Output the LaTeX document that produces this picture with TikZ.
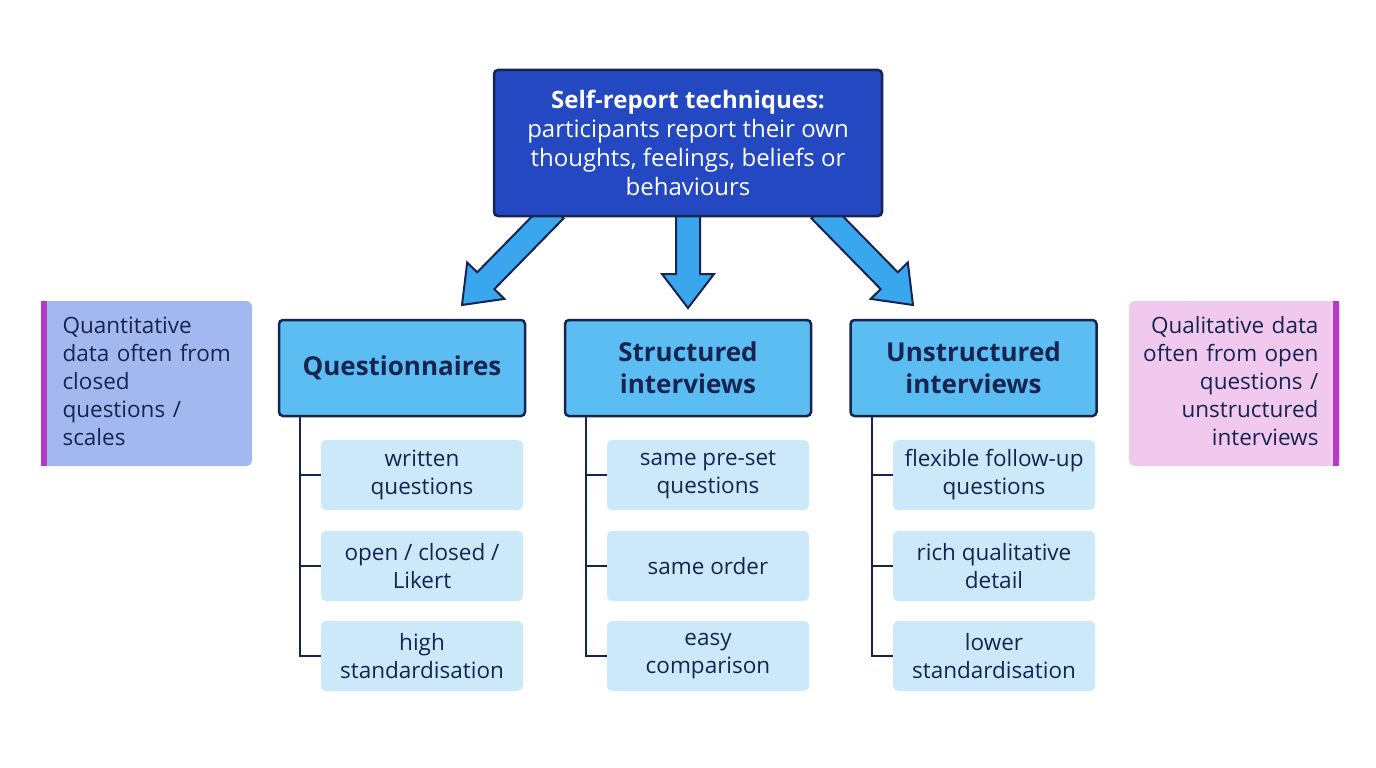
\documentclass[tikz,border=0pt]{standalone}
\usepackage{fontspec}
\setmainfont{Open Sans}
\usetikzlibrary{calc}
\definecolor{topfill}{HTML}{2348C2}
\definecolor{edge}{HTML}{16244F}
\definecolor{catfill}{HTML}{5CBDF2}
\definecolor{childfill}{HTML}{CCE9FA}
\definecolor{arrowfill}{HTML}{3AA6EE}
\definecolor{quant}{HTML}{A4B8F0}
\definecolor{qual}{HTML}{F1C9EF}
\definecolor{bar}{HTML}{B43CC4}
\tikzset{
 cat/.style={draw=edge,line width=2.5pt,fill=catfill,rounded corners=4pt,minimum width=246pt,minimum height=96pt,align=center,font=\fontsize{26}{32}\selectfont\bfseries,text=edge,inner sep=0pt},
 child/.style={fill=childfill,rounded corners=5pt,minimum width=202pt,minimum height=70pt,align=center,font=\fontsize{22.5}{28}\selectfont,text=edge,inner sep=0pt},
 tree/.style={draw=edge,line width=2.5pt},
 side/.style={rounded corners=6pt,minimum width=211pt,minimum height=165pt,inner sep=0pt},
 sidetext/.style={font=\fontsize{22.5}{28}\selectfont,text=edge,text width=200pt},
 blk/.style={fill=arrowfill,draw=edge,line width=2pt,line join=miter}
}
\newcommand{\blockarrow}[2]{%
 \coordinate (H) at ($(#2)!34pt!(#1)$);
 \path[blk] ($(#1)!12pt!90:(#2)$) -- ($(H)!12pt!-90:(#1)$) -- ($(H)!26pt!-90:(#1)$) -- (#2) -- ($(H)!26pt!90:(#1)$) -- ($(H)!12pt!90:(#1)$) -- ($(#1)!12pt!-90:(#2)$) -- cycle;}
\begin{document}
\begin{tikzpicture}[x=1pt,y=-1pt]
\useasboundingbox (0,0) rectangle (1376,768);
\fill[white] (0,0) rectangle (1376,768);
\coordinate (a1s) at (555,210); \coordinate (a1e) at (462,305);
\coordinate (a2s) at (688,210); \coordinate (a2e) at (688,308);
\coordinate (a3s) at (820,210); \coordinate (a3e) at (913,305);
\blockarrow{a1s}{a1e}
\blockarrow{a2s}{a2e}
\blockarrow{a3s}{a3e}
\node[draw=edge,line width=2.5pt,fill=topfill,rounded corners=4pt,minimum width=388pt,minimum height=146pt,align=center,text=white,font=\fontsize{24}{29}\selectfont,inner sep=0pt] (top) at (688,143) {{\bfseries Self-report techniques:}\\participants report their own\\thoughts, feelings, beliefs or\\behaviours};
\node[cat] (q) at (402,368) {Questionnaires};
\node[cat] (s) at (688,368) {Structured\\interviews};
\node[cat] (u) at (973.5,368) {Unstructured\\interviews};
\foreach \n/\x in {q/300, s/586, u/872}{
 \coordinate (\n t) at (\x,416);
 \coordinate (\n b) at (\x,657);
 \draw[tree] (\n t) -- (\n b);
}
\node[child] (q1) at (422,475) {written\\questions};
\node[child] (q2) at (422,566) {open / closed /\\Likert};
\node[child] (q3) at (422,656) {high\\standardisation};
\node[child] (s1) at (708,475) {same pre-set\\questions};
\node[child] (s2) at (708,566) {same order};
\node[child] (s3) at (708,656) {easy\\comparison};
\node[child] (u1) at (994,475) {flexible follow-up\\questions};
\node[child] (u2) at (994,566) {rich qualitative\\detail};
\node[child] (u3) at (994,656) {lower\\standardisation};
\foreach \n in {q,s,u}{
 \foreach \i in {1,2,3}{
  \draw[tree] (\n\i.west -| \n t) -- (\n\i.west);
 }
}
\node[side,fill=quant] (lq) at (146.5,383.5) {};
\fill[bar] (41,301) rectangle (47,466);
\node[sidetext,align=left,anchor=north west] (lqt) at (59,313) {Quantitative\\data often from\\closed\\questions /\\scales};
\node[side,fill=qual] (rq) at (1234.5,383.5) {};
\fill[bar] (1333,301) rectangle (1339,466);
\node[sidetext,align=right,anchor=north east] (rqt) at (1322,313) {Qualitative data\\often from open\\questions /\\unstructured\\interviews};
\end{tikzpicture}
\end{document}
